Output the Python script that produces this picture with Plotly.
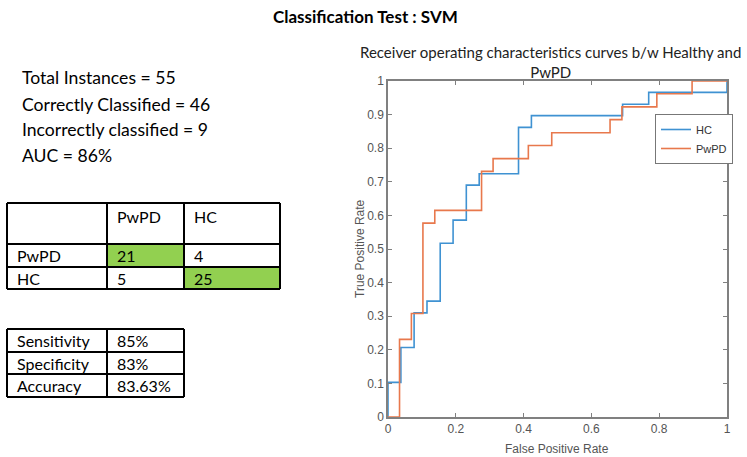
import plotly.graph_objects as go

W, H = 747, 457

# ---------------- data ----------------
hc_fpr = [0, 0, 0.038, 0.077, 0.115, 0.154, 0.192, 0.231, 0.269, 0.385, 0.423, 0.692, 0.769, 1.0]
hc_tpr = [0, 0.103, 0.207, 0.310, 0.345, 0.517, 0.586, 0.690, 0.724, 0.862, 0.897, 0.931, 0.966, 1.0]

pwpd_fpr = [0, 0.034, 0.069, 0.103, 0.138, 0.276, 0.310, 0.414, 0.483, 0.655, 0.690, 0.793, 0.897, 1.0]
pwpd_tpr = [0, 0.231, 0.308, 0.577, 0.615, 0.731, 0.769, 0.808, 0.846, 0.885, 0.923, 0.962, 1.0, 1.0]

summary_lines = ["Total Instances = 55", "Correctly Classified = 46",
                 "Incorrectly classified = 9", "AUC = 86%"]

cm_classes = ["PwPD", "HC"]
cm_values = [[21, 4], [5, 25]]

metric_names = ["Sensitivity", "Specificity", "Accuracy"]
metric_values = ["85%", "83%", "83.63%"]

x_ticks = [0, 0.2, 0.4, 0.6, 0.8, 1]
x_ticklabels = ["0", "0.2", "0.4", "0.6", "0.8", "1"]
y_ticks = [0, 0.1, 0.2, 0.3, 0.4, 0.5, 0.6, 0.7, 0.8, 0.9, 1]
y_ticklabels = ["0", "0.1", "0.2", "0.3", "0.4", "0.5", "0.6", "0.7", "0.8", "0.9", "1"]

# ---------------- helpers ----------------
def px(x):
    return x / W

def py(y):
    return 1 - y / H

CAL = "Lato, 'Open Sans', sans-serif"
HELV = "'Liberation Sans Narrow', 'Liberation Sans', Arial, sans-serif"
BLUE = "#3f92d2"
ORANGE = "#e8784c"
AXC = "#808080"
GREEN = "#92d050"

fig = go.Figure()
fig.add_trace(go.Scatter(x=hc_fpr, y=hc_tpr, mode="lines", name="HC",
                         line=dict(color=BLUE, width=1.6, shape="hv")))
fig.add_trace(go.Scatter(x=pwpd_fpr, y=pwpd_tpr, mode="lines", name="PwPD",
                         line=dict(color=ORANGE, width=1.6, shape="hv")))

shapes = []
annotations = []

# main title
annotations.append(dict(text="<b>Classification Test : SVM</b>", x=px(365), y=py(16),
                        xref="paper", yref="paper", showarrow=False,
                        font=dict(family=CAL, size=17, color="black"),
                        xanchor="center", yanchor="middle"))

# ROC title
annotations.append(dict(text="Receiver operating characteristics curves b/w Healthy and<br>PwPD",
                        x=px(550), y=py(62), xref="paper", yref="paper", showarrow=False,
                        font=dict(family=CAL, size=15, color="#222"), align="center",
                        xanchor="center", yanchor="middle"))

# summary text
for i, t in enumerate(summary_lines):
    annotations.append(dict(text=t, x=px(20), y=py(78 + 26 * i), xref="paper", yref="paper",
                            showarrow=False, font=dict(family=CAL, size=17.6, color="black"),
                            xanchor="left", yanchor="middle"))

# confusion matrix table
cx = [7, 107, 184, 280]
cy = [203, 244, 267, 289]
for i in range(2):
    j = i
    shapes.append(dict(type="rect", xref="paper", yref="paper",
                       x0=px(cx[j + 1]), x1=px(cx[j + 2]), y0=py(cy[i + 1]), y1=py(cy[i + 2]),
                       fillcolor=GREEN, line=dict(width=0), layer="below"))
for x in cx:
    shapes.append(dict(type="line", xref="paper", yref="paper", x0=px(x), x1=px(x),
                       y0=py(cy[0]), y1=py(cy[-1]), line=dict(color="black", width=2)))
for y in cy:
    shapes.append(dict(type="line", xref="paper", yref="paper", x0=px(cx[0]), x1=px(cx[-1]),
                       y0=py(y), y1=py(y), line=dict(color="black", width=2)))
tfont = dict(family=CAL, size=16, color="black")
for j, c in enumerate(cm_classes):
    annotations.append(dict(text=c, x=px(cx[j + 1] + 8), y=py(216), xref="paper", yref="paper",
                            showarrow=False, font=tfont, xanchor="left", yanchor="middle"))
for i, c in enumerate(cm_classes):
    yc = (cy[i + 1] + cy[i + 2]) / 2
    annotations.append(dict(text=c, x=px(cx[0] + 8), y=py(yc), xref="paper", yref="paper",
                            showarrow=False, font=tfont, xanchor="left", yanchor="middle"))
    for j in range(2):
        annotations.append(dict(text=str(cm_values[i][j]), x=px(cx[j + 1] + 8), y=py(yc),
                                xref="paper", yref="paper", showarrow=False, font=tfont,
                                xanchor="left", yanchor="middle"))

# metrics table
mx = [7, 107, 184]
my = [329, 352, 374, 397]
for x in mx:
    shapes.append(dict(type="line", xref="paper", yref="paper", x0=px(x), x1=px(x),
                       y0=py(my[0]), y1=py(my[-1]), line=dict(color="black", width=2)))
for y in my:
    shapes.append(dict(type="line", xref="paper", yref="paper", x0=px(mx[0]), x1=px(mx[-1]),
                       y0=py(y), y1=py(y), line=dict(color="black", width=2)))
for i, (n, v) in enumerate(zip(metric_names, metric_values)):
    yc = (my[i] + my[i + 1]) / 2
    annotations.append(dict(text=n, x=px(mx[0] + 8), y=py(yc), xref="paper", yref="paper",
                            showarrow=False, font=tfont, xanchor="left", yanchor="middle"))
    annotations.append(dict(text=v, x=px(mx[1] + 8), y=py(yc), xref="paper", yref="paper",
                            showarrow=False, font=tfont, xanchor="left", yanchor="middle"))

# axis titles
annotations.append(dict(text="True Positive Rate", x=px(360), y=py(249), xref="paper", yref="paper",
                        showarrow=False, textangle=-90,
                        font=dict(family=HELV, size=12, color="#555"),
                        xanchor="center", yanchor="middle"))
annotations.append(dict(text="False Positive Rate", x=px(557), y=py(449), xref="paper", yref="paper",
                        showarrow=False, font=dict(family=HELV, size=12, color="#555"),
                        xanchor="center", yanchor="middle"))

axis_common = dict(range=[0, 1], showgrid=False, zeroline=False, showline=True, automargin=False,
                   linecolor=AXC, linewidth=1.5, mirror="ticks", ticks="inside",
                   ticklen=4, tickcolor=AXC, tickfont=dict(family=HELV, size=12, color="#555"))

fig.update_layout(
    width=W, height=H, margin=dict(l=0, r=0, t=0, b=0, pad=0, autoexpand=False),
    paper_bgcolor="white", plot_bgcolor="white",
    xaxis=dict(domain=[px(388), px(727)], tickvals=x_ticks, ticktext=x_ticklabels, **axis_common),
    yaxis=dict(domain=[py(417), py(81)], tickvals=y_ticks, ticktext=y_ticklabels, **axis_common),
    showlegend=True,
    legend=dict(x=px(655), y=py(114), xanchor="left", yanchor="top",
                bgcolor="white", bordercolor="#777", borderwidth=1,
                font=dict(family=HELV, size=11, color="#333"),
                itemwidth=30, tracegroupgap=0),
    shapes=shapes, annotations=annotations,
)

fig.write_html("out.html", config={"displayModeBar": False},
               post_script="document.body.style.margin='0';document.body.style.padding='0';")
